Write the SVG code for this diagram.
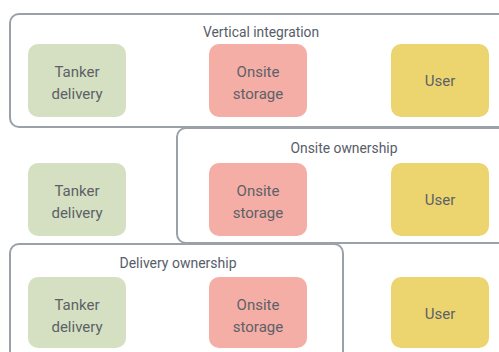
<svg xmlns="http://www.w3.org/2000/svg" width="499" height="352" viewBox="0 0 499 352">
  <style>
    .frame { fill: none; stroke: #9ba1a9; stroke-width: 2; }
    .node { stroke: none; }
    .tanker { fill: #d5e0c2; }
    .storage { fill: #f4aea6; }
    .user { fill: #ecd56f; }
    text { font-family: Roboto, "Liberation Sans", sans-serif; text-anchor: middle; }
    .label { font-size: 15px; fill: #5d6167; }
    .title { font-size: 15px; fill: #575d68; }
  </style>

  <!-- grouping frames -->
  <g id="frames">
    <g id="vertical-integration">
      <rect class="frame" x="10" y="14" width="500" height="113" rx="9"/>
      <text class="title" x="261" y="37" textLength="116" lengthAdjust="spacingAndGlyphs">Vertical integration</text>
    </g>
    <g id="onsite-ownership">
      <rect class="frame" x="177" y="128" width="340" height="115" rx="9"/>
      <text class="title" x="344" y="153" textLength="107" lengthAdjust="spacingAndGlyphs">Onsite ownership</text>
    </g>
    <g id="delivery-ownership">
      <rect class="frame" x="10" y="244" width="333" height="130" rx="9"/>
      <text class="title" x="178" y="268" textLength="117" lengthAdjust="spacingAndGlyphs">Delivery ownership</text>
    </g>
  </g>

  <!-- row 1 -->
  <g id="tanker-1">
    <rect class="node tanker" x="28" y="44" width="98" height="73" rx="10"/>
    <text class="label" x="77" y="77">Tanker</text>
    <text class="label" x="77" y="99">delivery</text>
  </g>
  <g id="storage-1">
    <rect class="node storage" x="209" y="44" width="98" height="73" rx="10"/>
    <text class="label" x="258" y="77">Onsite</text>
    <text class="label" x="258" y="99">storage</text>
  </g>
  <g id="user-1">
    <rect class="node user" x="391" y="44" width="98" height="73" rx="10"/>
    <text class="label" x="440" y="86">User</text>
  </g>

  <!-- row 2 -->
  <g id="tanker-2">
    <rect class="node tanker" x="28" y="163" width="98" height="73" rx="10"/>
    <text class="label" x="77" y="196">Tanker</text>
    <text class="label" x="77" y="218">delivery</text>
  </g>
  <g id="storage-2">
    <rect class="node storage" x="209" y="163" width="98" height="73" rx="10"/>
    <text class="label" x="258" y="196">Onsite</text>
    <text class="label" x="258" y="218">storage</text>
  </g>
  <g id="user-2">
    <rect class="node user" x="391" y="163" width="98" height="73" rx="10"/>
    <text class="label" x="440" y="205">User</text>
  </g>

  <!-- row 3 -->
  <g id="tanker-3">
    <rect class="node tanker" x="28" y="277" width="98" height="71" rx="10"/>
    <text class="label" x="77" y="310">Tanker</text>
    <text class="label" x="77" y="332">delivery</text>
  </g>
  <g id="storage-3">
    <rect class="node storage" x="209" y="277" width="98" height="71" rx="10"/>
    <text class="label" x="258" y="310">Onsite</text>
    <text class="label" x="258" y="332">storage</text>
  </g>
  <g id="user-3">
    <rect class="node user" x="391" y="277" width="98" height="71" rx="10"/>
    <text class="label" x="440" y="319">User</text>
  </g>

  <!-- no connectors in this figure -->
  <g id="connectors"/>
</svg>
